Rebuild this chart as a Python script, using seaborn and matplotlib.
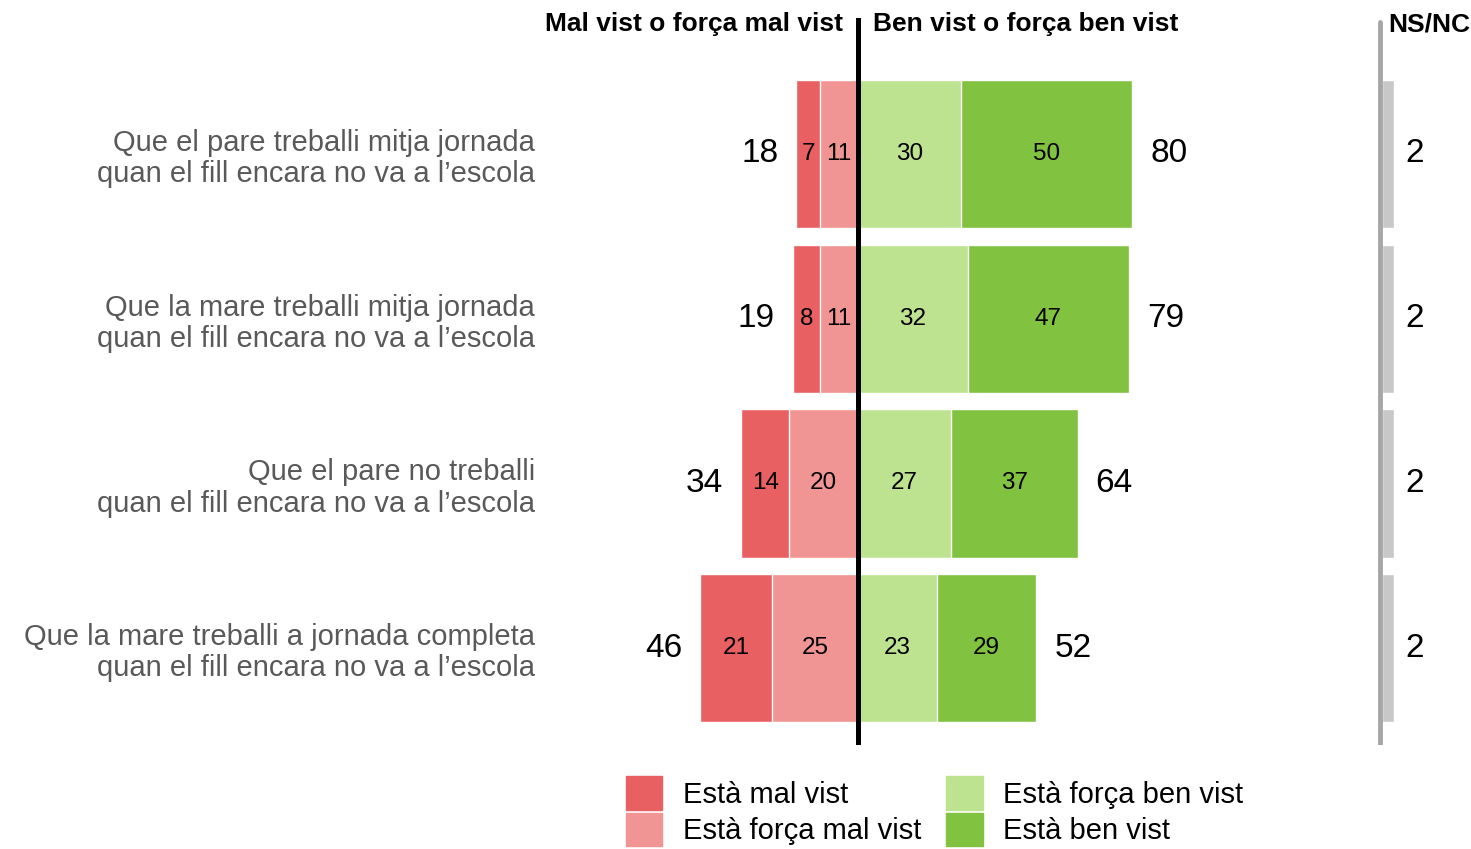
import matplotlib
matplotlib.use("Agg")
import matplotlib.pyplot as plt
import matplotlib.patches as mpatches
import seaborn as sns
import pandas as pd

# data
categories = [
    "Que el pare treballi mitja jornada\nquan el fill encara no va a l’escola",
    "Que la mare treballi mitja jornada\nquan el fill encara no va a l’escola",
    "Que el pare no treballi\nquan el fill encara no va a l’escola",
    "Que la mare treballi a jornada completa\nquan el fill encara no va a l’escola",
]
mal_vist = [7, 8, 14, 21]
forca_mal_vist = [11, 11, 20, 25]
forca_ben_vist = [30, 32, 27, 23]
ben_vist = [50, 47, 37, 29]
ns_nc = [2, 2, 2, 2]

legend_labels = ["Està mal vist", "Està força mal vist", "Està força ben vist", "Està ben vist"]
c_mal, c_fmal, c_fben, c_ben = "#E86062", "#F09594", "#BDE390", "#81C240"

df = pd.DataFrame({
    "cat": categories,
    "mal": mal_vist,
    "fmal": forca_mal_vist,
    "fben": forca_ben_vist,
    "ben": ben_vist,
    "ns": ns_nc,
})
df["neg_total"] = -(df["mal"] + df["fmal"])
df["neg_fmal"] = -df["fmal"]
df["pos_total"] = df["fben"] + df["ben"]

sns.set_theme(style="white")
plt.rcParams["font.family"] = ["Liberation Sans", "DejaVu Sans"]
plt.rcParams["text.color"] = "black"

W, H = 1471, 849
fig = plt.figure(figsize=(W / 100, H / 100), dpi=100)

# main axes: x=0 at pixel 858, ~3.43 px per unit
px_unit = 3.43
ax_left, ax_right = 560, 1300
top_px, bot_px = 18, 745
ax = fig.add_axes([ax_left / W, 1 - bot_px / H, (ax_right - ax_left) / W, (bot_px - top_px) / H])

bw = 0.9
sns.barplot(data=df, x="neg_total", y="cat", color=c_mal, orient="h", width=bw, ax=ax, saturation=1)
sns.barplot(data=df, x="neg_fmal", y="cat", color=c_fmal, orient="h", width=bw, ax=ax, saturation=1)
sns.barplot(data=df, x="pos_total", y="cat", color=c_ben, orient="h", width=bw, ax=ax, saturation=1)
sns.barplot(data=df, x="fben", y="cat", color=c_fben, orient="h", width=bw, ax=ax, saturation=1)

ax.set_xlim((ax_left - 858) / px_unit, (ax_right - 858) / px_unit)
row_px = 164.7
ax.set_ylim((bot_px - 154) / row_px, -(154 - top_px) / row_px)
ax.axvline(0, color="black", lw=3.6, zorder=5)

# segment labels
seg_fs, tot_fs = 17.5, 24
for i, r in df.iterrows():
    ax.text(-r["fmal"] - r["mal"] / 2, i, str(r["mal"]), ha="center", va="center", fontsize=seg_fs)
    ax.text(-r["fmal"] / 2, i, str(r["fmal"]), ha="center", va="center", fontsize=seg_fs)
    ax.text(r["fben"] / 2, i, str(r["fben"]), ha="center", va="center", fontsize=seg_fs)
    ax.text(r["fben"] + r["ben"] / 2, i, str(r["ben"]), ha="center", va="center", fontsize=seg_fs)
    ax.annotate(str(r["mal"] + r["fmal"]), (r["neg_total"], i), xytext=(-13, 0),
                textcoords="offset points", ha="right", va="center", fontsize=tot_fs)
    ax.annotate(str(r["pos_total"]), (r["pos_total"], i), xytext=(13, 0),
                textcoords="offset points", ha="left", va="center", fontsize=tot_fs)

ax.set_xlabel("")
ax.set_ylabel("")
ax.set_xticks([])
sns.despine(ax=ax, left=True, bottom=True)
ax.tick_params(axis="y", length=0, pad=18, labelsize=21, labelcolor="#595959")
for t in ax.get_yticklabels():
    t.set_linespacing(1.15)

fig.text(843 / W, 1 - 24 / H, "Mal vist o força mal vist", ha="right", va="center",
         fontsize=19, fontweight="bold")
fig.text(873 / W, 1 - 24 / H, "Ben vist o força ben vist", ha="left", va="center",
         fontsize=19, fontweight="bold")

# NS/NC panel
ns_left, ns_right = 1376, 1471
ax2 = fig.add_axes([ns_left / W, 1 - bot_px / H, (ns_right - ns_left) / W, (bot_px - top_px) / H])
sns.barplot(data=df, x="ns", y="cat", color="#C8C8C8", orient="h", width=bw, ax=ax2, saturation=1)
ns_unit = 6.0
ax2.set_xlim(-(1382 - ns_left) / ns_unit, (ns_right - 1382) / ns_unit)
ax2.set_ylim((bot_px - 154) / row_px, -(154 - top_px) / row_px)
ax2.axvline(-0.3, ymin=0, ymax=(bot_px - 22) / (bot_px - top_px), color="#A6A6A6", lw=3.5, zorder=5)
for i, v in enumerate(ns_nc):
    ax2.text((1415 - 1382) / ns_unit, i, str(v), ha="center", va="center", fontsize=tot_fs)
ax2.axis("off")
fig.text(1388 / W, 1 - 24 / H, "NS/NC", ha="left", va="center", fontsize=19, fontweight="bold")

# legend
handles = [mpatches.Patch(color=c) for c in (c_mal, c_fmal, c_fben, c_ben)]
fig.legend(handles, legend_labels, ncol=2, loc="upper left", bbox_to_anchor=(626 / W, 1 - 776 / H),
           frameon=False, fontsize=21, handlelength=1.25, handleheight=1.4, handletextpad=0.7,
           labelspacing=0.1, columnspacing=0.85, borderpad=0, borderaxespad=0)

fig.savefig("out.png", dpi=100)
